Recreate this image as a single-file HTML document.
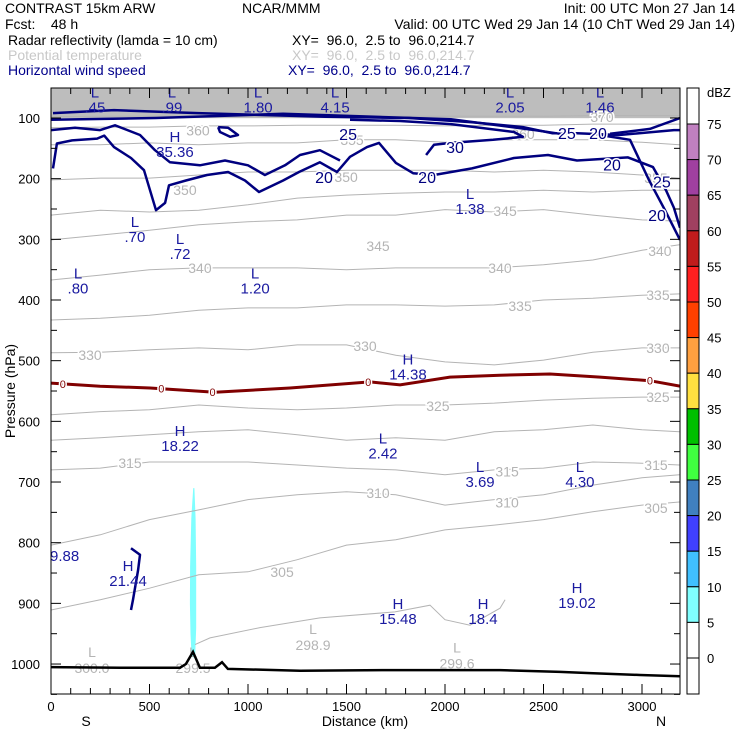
<!DOCTYPE html>
<html><head><meta charset="utf-8"><style>
body{margin:0;background:#fff;}
svg{display:block;font-family:"Liberation Sans",sans-serif;}
</style></head><body>
<svg id="chart" width="740" height="740" viewBox="0 0 740 740">
<g font-size="14" style="white-space:pre">
<text x="5" y="13" fill="#000">CONTRAST 15km ARW</text>
<text x="242" y="13" fill="#000">NCAR/MMM</text>
<text x="735" y="13" text-anchor="end" fill="#000">Init: 00 UTC Mon 27 Jan 14</text>
<text x="5" y="29" fill="#000" xml:space="preserve">Fcst:    48 h</text>
<text x="735" y="29" text-anchor="end" fill="#000">Valid: 00 UTC Wed 29 Jan 14 (10 ChT Wed 29 Jan 14)</text>
<text x="8" y="45" fill="#000">Radar reflectivity (lamda = 10 cm)</text>
<text x="292" y="45" fill="#000" xml:space="preserve">XY=  96.0,  2.5 to  96.0,214.7</text>
<text x="8" y="60" fill="#c8c8c8">Potential temperature</text>
<text x="292" y="60" fill="#c8c8c8" xml:space="preserve">XY=  96.0,  2.5 to  96.0,214.7</text>
<text x="8" y="75" fill="#00008b">Horizontal wind speed</text>
<text x="288" y="75" fill="#00008b" xml:space="preserve">XY=  96.0,  2.5 to  96.0,214.7</text>
</g>
<rect x="51" y="88" width="629" height="606" fill="#fff"/>
<g id="plot"></g>
<g id="axes"></g>
<g id="cbar"></g>
</svg>
<script>
// ---- data ----
const dist = [0,250,500,750,1000,1250,1500,1750,2000,2250,2500,2750,3000,3190];
const thetaLevels = [305,310,315,320,325,330,335,340,345,350,355,360,365,370];
const th305=[911,894,875,853,848,828,804,795,779,771,762,749,738,733];
const th310=[804,787,762,746,729,721,716,721,738,729,721,705,693,688];
const th315=[680,677,667,667,667,672,677,680,688,680,677,667,669,672];
const th320=[631,627,622,617,614,622,631,627,631,617,614,606,614,617];
const th325=[589,584,581,573,578,581,578,573,573,570,565,562,560,560];
const th330=[487,486,482,479,482,474,474,491,502,507,499,486,479,479];
const th335=[433,430,425,417,413,413,408,408,410,408,400,397,392,390];
const th340=[367,359,350,347,347,347,350,347,347,347,342,334,318,309];
const th345=[301,293,285,276,271,268,260,260,251,255,251,260,268,270];
const th350=[260,252,255,252,243,232,227,224,222,222,219,222,219,219];
const th355=[202,199,199,194,189,189,186,186,186,189,186,189,194,199];
const th360=[144,144,141,144,141,141,136,136,140,136,136,136,140,144];
const th365=[116,115,115,113,113,112,112,112,113,112,112,110,110,110];
const th370=[98,97,97,97,97,97,97,97,97,97,97,96,96,96];
const thetaSeries=[th305,th310,th315,th320,th325,th330,th335,th340,th345,th350,th355,th360,th365,th370];
const th300Km=[731,807,1061,1365,1746,1924,2000,2127,2279,2305];
const th300P=[968,957,940,924,914,903,927,936,908,894];
const thetaLabels=[["370",2797,98],["360",2396,126],["360",746,121],["355",1528,136],["350",1498,197],["350",680,219],["345",2305,253],["345",1660,311],["340",756,347],["340",2279,347],["340",3091,319],["335",2381,410],["335",3081,392],["330",1594,476],["330",198,491],["330",3081,479],["325",1964,575],["325",3081,560],["315",401,669],["315",2315,683],["315",3071,672],["310",1660,718],["310",2315,734],["305",1173,848],["305",3071,743],["355",3071,199]];
const thetaExtrema=[["L","298.9",1330,942],["L","299.6",2061,973],["L","300.0",208,980],["L","299.5",721,980]];
// wind speed contours [km list, hPa list]
const w20Km=[10,30,107,234,270,320,406,472,533,579,599,685,792,899,985,1056,1178,1259,1365,1452,1518,1604,1665,1751,1838,1944,2137,2350,2523,2670,2929,3056,3122,3162,3193];
const w20P=[183,142,137,134,129,148,166,186,252,240,211,203,194,189,203,222,203,189,173,189,164,148,141,174,191,194,183,166,161,170,165,181,219,248,281];
const w25Km=[0,122,249,325,452,528,604,756,883,1000,1086,1188,1264,1365,1467];
const w25P=[120,116,120,112,128,153,173,178,170,178,194,178,161,153,170];
const jet1Km=[10,320,746,1391,1817,2137,2396,2543,2670,2883,3162,3193];
const jet1P=[92,87,92,98,100,107,115,125,125,128,120,120];
const jet2Km=[0,533,1178,2030,2457,2584];
const jet2P=[103,100,93,102,120,126];
const w30Km=[1904,1944,2030,2244,2396,2350,2030,1772,1518];
const w30P=[161,144,141,136,131,123,110,105,103];
const wR25Km=[2787,2939,3035,3117,3193];
const wR25P=[128,136,202,252,301];
const wRtopKm=[2838,3040,3193];
const wRtopP=[126,118,100];
const wLoopKm=[848,899,949,909,858,848];
const wLoopP=[115,116,128,131,123,115];
const wHookKm=[406,452,442,416,406];
const wHookP=[809,820,845,894,911];
const windLabels=[["25",1508,126],["30",2051,148],["25",2619,125],["20",2777,125],["20",1386,197],["20",1909,197],["20",2848,177],["25",3101,205],["20",3076,260]];
const windExtrema=[["L",".45",223,56],["L",".99",614,56],["L","1.80",1051,56],["L","4.15",1442,56],["L","2.05",2330,56],["L","1.46",2787,56],["H","35.36",629,130],["L","1.38",2127,224],["L",".70",426,270],["L",".72",655,298],["L",".80",137,355],["L","1.20",1036,355],["H","14.38",1812,496],["H","18.22",655,614],["L","2.42",1685,627],["L","3.69",2178,674],["L","4.30",2685,674],["H","21.44",391,837],["H","15.48",1761,899],["H","18.4",2193,899],["H","19.02",2670,873]];
const frzKm=[0,249,503,832,1213,1619,1772,2025,2279,2533,2787,3040,3193];
const frzP=[537,542,545,552,545,535,540,527,524,522,527,533,542];
const frzLabelKm=[60,560,820,1610,3040];
const terrKm=[0,350,655,685,721,756,832,868,898,1264,1721,2279,2584,2736,2990,3193];
const terrP=[1005,1006,1006,1000,980,1006,1006,997,1008,1011,1010,1010,1013,1015,1018,1020];
// reflectivity (5-10 dBZ) column outline
const reflKm=[722,712,706,705,708,713,722,732,737,737,734,728];
const reflP=[710,760,840,900,950,985,990,985,940,840,760,710];
const yTicks=[100,200,300,400,500,600,700,800,900,1000];
const xTicks=[0,500,1000,1500,2000,2500,3000];
const cbLevels=[75,70,65,60,55,50,45,40,35,30,25,20,15,10,5,0];
const cbColors=["#fff","#c080c0","#a040a0","#a04060","#c01c1c","#ff2020","#ff4000","#ffa040","#ffe040","#00c000","#40ff40","#4080c0","#4040ff","#40c0ff","#80ffff","#fff","#fff"];

// ---- scales ----
const X=km=>51+km*0.197;
const Y=p=>118+(p-100)*0.6067;
const NS="http://www.w3.org/2000/svg";
const plot=document.getElementById('plot');
const axes=document.getElementById('axes');
const cbar=document.getElementById('cbar');
function mk(tag,attrs,parent){const e=document.createElementNS(NS,tag);for(const k in attrs)e.setAttribute(k,attrs[k]);parent.appendChild(e);return e;}
function pts(ks,ps){return ks.map((k,i)=>X(k).toFixed(1)+','+Y(ps[i]).toFixed(1)).join(' ');}

const defs=mk('defs',{},plot);
const cp=mk('clipPath',{id:'clip'},defs);
mk('rect',{x:51,y:88,width:629,height:606},cp);
const g=mk('g',{'clip-path':'url(#clip)'},plot);

const band=mk('rect',{x:51,y:88,width:629,height:Y(97)-88+2,fill:'#bdbdbd'},g);



const refl=mk('polygon',{points:pts(reflKm,reflP),fill:'#80ffff'},g);



thetaSeries.forEach((s,i)=>{
  const l=mk('polyline',{points:pts(dist,s),fill:'none',stroke:'#b4b4b4','stroke-width':1},g);
  
  
});
const l300=mk('polyline',{points:pts(th300Km,th300P),fill:'none',stroke:'#b4b4b4','stroke-width':1},g);


thetaLabels.forEach(t=>{
  const e=mk('text',{x:X(t[1]),y:Y(t[2])+5,'text-anchor':'middle','font-size':14,fill:'#b4b4b4',stroke:'#fff','stroke-width':3,'paint-order':'stroke'},g);
  e.textContent=t[0];
  
  
});
thetaExtrema.forEach(t=>{
  const a=mk('text',{x:X(t[2]),y:Y(t[3])+5,'text-anchor':'middle','font-size':14,fill:'#b4b4b4'},g);a.textContent=t[0];
  
  
  const b=mk('text',{x:X(t[2]),y:Y(t[3])+21,'text-anchor':'middle','font-size':14,fill:'#b4b4b4'},g);b.textContent=t[1];
  
  
});

[[w20Km,w20P,'wind-contour-20'],[w25Km,w25P,'wind-contour-25'],[jet1Km,jet1P,'wind-jet-upper-1'],[jet2Km,jet2P,'wind-jet-upper-2'],[w30Km,w30P,'wind-contour-30'],[wR25Km,wR25P,'wind-contour-right-25'],[wRtopKm,wRtopP,'wind-contour-right-top'],[wLoopKm,wLoopP,'wind-contour-loop'],[wHookKm,wHookP,'wind-contour-hook']].forEach(c=>{
  const l=mk('polyline',{points:pts(c[0],c[1]),fill:'none',stroke:'#00007f','stroke-width':2.5,'stroke-linejoin':'round'},g);
  
  
});
windLabels.forEach(t=>{
  const e=mk('text',{x:X(t[1]),y:Y(t[2])+6,'text-anchor':'middle','font-size':16,fill:'#00007f',stroke:'#fff','stroke-width':3,'paint-order':'stroke'},g);
  e.textContent=t[0];
  
  
});
windExtrema.forEach(t=>{
  const a=mk('text',{x:X(t[2]),y:Y(t[3])+6,'text-anchor':'middle','font-size':15,fill:'#1a1aa0'},g);a.textContent=t[0];
  
  
  const b=mk('text',{x:X(t[2]),y:Y(t[3])+21,'text-anchor':'middle','font-size':15,fill:'#1a1aa0'},g);b.textContent=t[1];
  
  
});
const e988=mk('text',{x:50,y:561,'font-size':15,fill:'#1a1aa0'},g);e988.textContent='9.88';



const frz=mk('polyline',{points:pts(frzKm,frzP),fill:'none',stroke:'#800000','stroke-width':3},g);


frzLabelKm.forEach(k=>{
  let i=0;while(i<frzKm.length-2&&frzKm[i+1]<k)i++;
  const f=(k-frzKm[i])/(frzKm[i+1]-frzKm[i]);const p=frzP[i]+f*(frzP[i+1]-frzP[i]);
  const e=mk('text',{x:X(k),y:Y(p)+4,'text-anchor':'middle','font-size':11,fill:'#800000',stroke:'#fff','stroke-width':3,'paint-order':'stroke'},g);
  e.textContent='0';
  
  
});

const terr=mk('polyline',{points:pts(terrKm,terrP),fill:'none',stroke:'#000','stroke-width':2.5},g);



const fr=mk('rect',{x:51,y:88,width:629,height:606,fill:'none',stroke:'#000','stroke-width':1},axes);


for(let k=0;k<=3190;k+=100){
  const major=k%500===0;const len=major?10:6;
  mk('line',{x1:X(k),x2:X(k),y1:694,y2:694-len,stroke:'#000'},axes);
  mk('line',{x1:X(k),x2:X(k),y1:88,y2:88+len,stroke:'#000'},axes);
}
for(let p=100;p<=1050;p+=50){
  const major=p%100===0;const len=major?10:6;
  mk('line',{x1:51,x2:51+len,y1:Y(p),y2:Y(p),stroke:'#000'},axes);
  mk('line',{x1:680,x2:680-len,y1:Y(p),y2:Y(p),stroke:'#000'},axes);
}
xTicks.forEach(k=>{
  const e=mk('text',{x:X(k),y:711,'text-anchor':'middle','font-size':13,fill:'#000'},axes);e.textContent=k;
  
  
});
yTicks.forEach(p=>{
  const e=mk('text',{x:40,y:Y(p)+5,'text-anchor':'end','font-size':13,fill:'#000'},axes);e.textContent=p;
  
  
});
const xt=mk('text',{x:365,y:726,'text-anchor':'middle','font-size':14,fill:'#000'},axes);xt.textContent='Distance (km)';


const sS=mk('text',{x:86,y:726,'text-anchor':'middle','font-size':14,fill:'#000'},axes);sS.textContent='S';


const sN=mk('text',{x:661,y:726,'text-anchor':'middle','font-size':14,fill:'#000'},axes);sN.textContent='N';


const yt=mk('text',{x:15,y:391,'text-anchor':'middle','font-size':14,fill:'#000',transform:'rotate(-90 15 391)'},axes);yt.textContent='Pressure (hPa)';



const cbTop=88,cbStep=35.6;
cbColors.forEach((c,i)=>{
  const y0=i===0?cbTop:124+(i-1)*cbStep;
  const y1=i===cbColors.length-1?694:124+i*cbStep;
  const r=mk('rect',{x:687,y:y0,width:12,height:y1-y0,fill:c,stroke:'#000','stroke-width':1},cbar);
  
  
});
cbLevels.forEach((v,i)=>{
  const e=mk('text',{x:707,y:124+i*cbStep+5,'font-size':13,fill:'#000'},cbar);e.textContent=v;
  
  
});
const du=mk('text',{x:707,y:97,'font-size':13,fill:'#000'},cbar);du.textContent='dBZ';


</script>
</body></html>
